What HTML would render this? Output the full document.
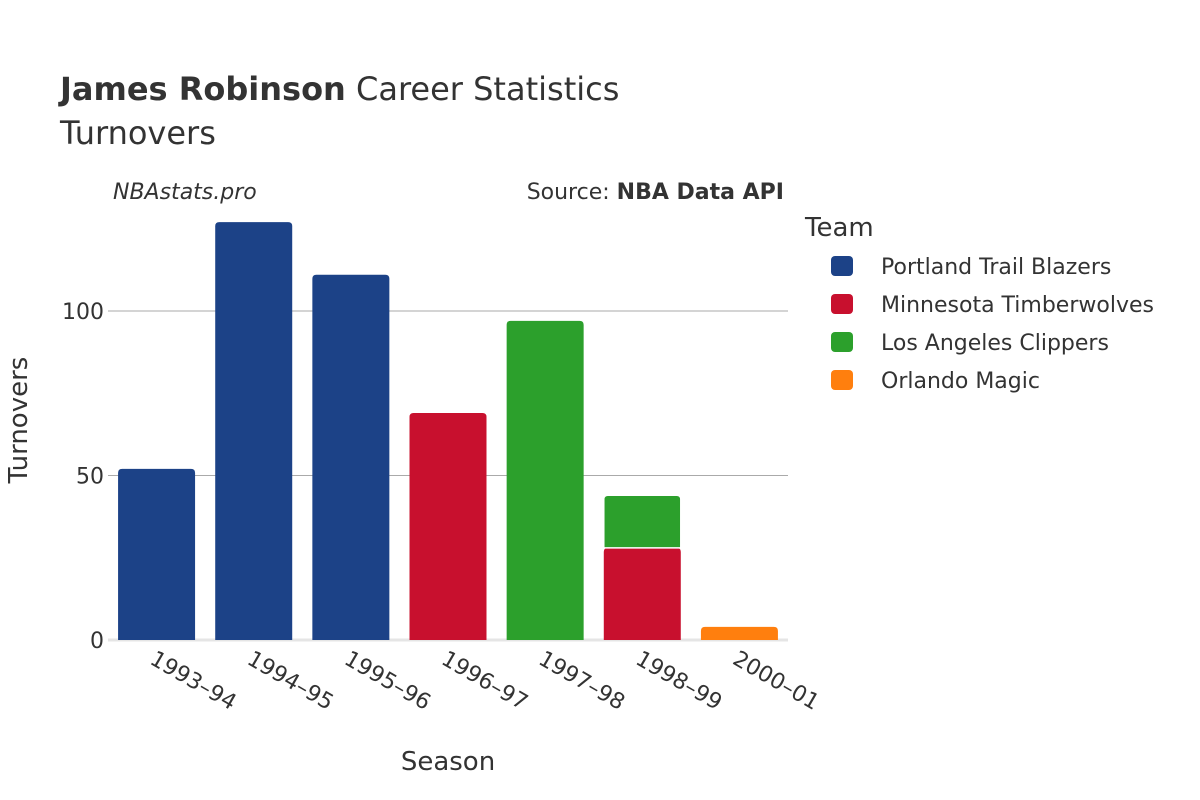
<!DOCTYPE html>
<html><head><meta charset="utf-8"><style>
body{margin:0;background:#fff;}
svg{display:block;font-family:"DejaVu Sans","Liberation Sans",sans-serif;}
</style></head><body>
<svg id="chart" width="1200" height="800">
<rect width="1200" height="800" fill="#fff"/>
<text x="60" y="100" font-size="32" fill="#333"><tspan font-weight="bold">James Robinson</tspan> Career Statistics</text>
<text x="60" y="144" font-size="32" fill="#333">Turnovers</text>
<text x="113" y="199" font-size="22" font-style="italic" fill="#333">NBAstats.pro</text>
<text x="784" y="199" font-size="22" fill="#333" text-anchor="end">Source: <tspan font-weight="bold">NBA Data API</tspan></text>
<g id="grid"></g>
<g id="bars"></g>
<g id="xticks"></g>
<text x="448" y="770" font-size="26" fill="#333" text-anchor="middle">Season</text>
<text transform="translate(27,420) rotate(-90)" font-size="26" fill="#333" text-anchor="middle">Turnovers</text>
<g id="legend"></g>
</svg>
<script>
const seasons=["1993–94","1994–95","1995–96","1996–97","1997–98","1998–99","2000–01"];
const teams=["Portland Trail Blazers","Minnesota Timberwolves","Los Angeles Clippers","Orlando Magic"];
const colors=["#1c4287","#c8102e","#2ca02c","#ff7f0e"];
const portland=[52,127,111,0,0,0,0];
const minnesota=[0,0,0,69,0,28,0];
const clippers=[0,0,0,0,97,16,0];
const orlando=[0,0,0,0,0,0,4];
const yTicks=[0,50,100];
const series=[portland,minnesota,clippers,orlando];
const NS="http://www.w3.org/2000/svg";
const x0=108,x1=788,yBase=640,pxPer=3.29;
const band=(x1-x0)/seasons.length,bw=77;
const y=v=>yBase-v*pxPer;
const xc=i=>x0+band*(i+0.5);
function mk(tag,attrs,parent){const e=document.createElementNS(NS,tag);for(const k in attrs)e.setAttribute(k,attrs[k]);parent.appendChild(e);return e;}
const grid=document.getElementById('grid');
yTicks.forEach(t=>{
  const l=mk('line',{x1:x0,x2:x1,y1:y(t),y2:y(t),stroke:t===0?'#e5e5e5':'#aaa','stroke-width':t===0?3:1},grid);
  
  
  const tx=mk('text',{x:x0-4,y:y(t)+8,'font-size':22,fill:'#333','text-anchor':'end'},grid);
  tx.textContent=t;
  
  
});
const bars=document.getElementById('bars');
seasons.forEach((s,i)=>{
  let cum=0;
  series.forEach((ser,k)=>{
    const v=ser[i]; if(!v) return;
    const top=y(cum+v),bot=y(cum);
    const p=mk('path',{d:`M${xc(i)-bw/2},${bot} V${top+4} Q${xc(i)-bw/2},${top} ${xc(i)-bw/2+4},${top} H${xc(i)+bw/2-4} Q${xc(i)+bw/2},${top} ${xc(i)+bw/2},${top+4} V${bot} Z`,fill:colors[k],stroke:'#fff','stroke-width':cum>0?1.5:0},bars);
    
    
    cum+=v;
  });
  const tx=mk('text',{transform:`translate(${xc(i)-8},${663}) rotate(30)`,'font-size':22,fill:'#333'},document.getElementById('xticks'));
  tx.textContent=s;
  
  
});
const lg=document.getElementById('legend');
const lt=mk('text',{x:805,y:236,'font-size':26,fill:'#333'},lg);
lt.textContent='Team';


teams.forEach((t,k)=>{
  const g=mk('g',{},lg);
  
  
  const cy=266+k*38;
  mk('rect',{x:831,y:cy-10,width:22,height:20,rx:4,fill:colors[k]},g);
  const tx=mk('text',{x:881,y:cy+8,'font-size':22,fill:'#333'},g);
  tx.textContent=t;
});
</script>
</body></html>
